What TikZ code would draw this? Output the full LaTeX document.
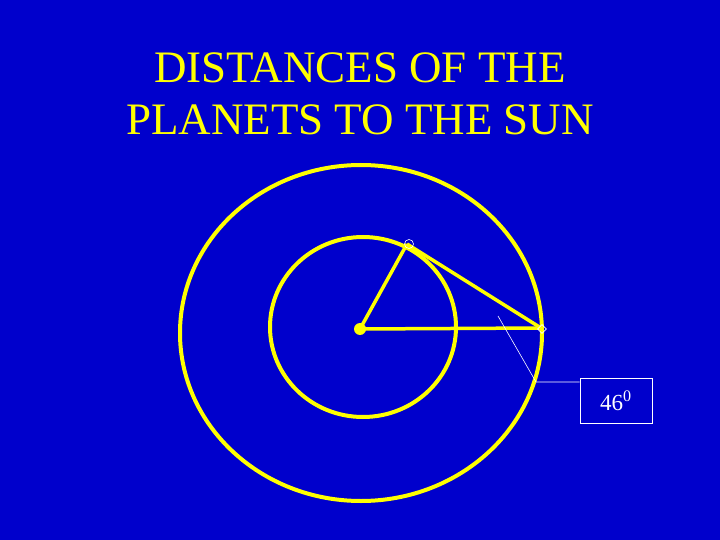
\documentclass[tikz,border=0pt]{standalone}
\usepackage{fontspec}
\setmainfont{Liberation Serif}
\usetikzlibrary{shapes.geometric}
\definecolor{slideblue}{RGB}{0,0,204}
\definecolor{sunyellow}{RGB}{255,255,0}
\tikzset{
  orbit/.style={draw=sunyellow, line width=4pt},
  ray/.style={draw=sunyellow, line width=3.5pt},
  marker/.style={draw=white, line width=0.6pt, inner sep=0pt, minimum size=9pt},
  callout/.style={draw=white, line width=0.6pt}
}
\begin{document}
\begin{tikzpicture}[x=1pt, y=-1pt]
  \fill[slideblue] (0, 0) rectangle (720, 540);
  \useasboundingbox (0, 0) rectangle (720, 540);

  % title
  \node[text=sunyellow, font=\fontsize{45}{52}\selectfont, align=center] (title) at (360, 94)
    {DISTANCES OF THE\\PLANETS TO THE SUN};

  % orbits
  \draw[orbit] (361, 333) ellipse (181 and 168);
  \draw[orbit] (363, 327) ellipse (93 and 90);

  % sun and planets
  \node[circle, fill=sunyellow, inner sep=0pt, minimum size=12pt] (sun) at (360, 329) {};
  \coordinate (inner) at (407, 244);
  \coordinate (outer) at (541, 328);
  \draw[ray] (sun.center) -- (inner);
  \draw[ray] (sun.center) -- (outer);
  \draw[ray] (inner) -- (outer);
  \node[marker, circle] (innermark) at (409, 244) {};
  \node[marker, diamond] (outermark) at (542, 329) {};

  % angle label
  \node[callout, minimum width=72pt, minimum height=45pt, text=white,
        font=\fontsize{23}{23}\selectfont] (angle) at (616, 400.5) {46\textsuperscript{0}};
  \coordinate (tip) at (498, 316);
  \coordinate (knee) at (536, 382);
  \draw[callout] (tip) -- (knee) -- (knee -| angle.west);
\end{tikzpicture}
\end{document}
